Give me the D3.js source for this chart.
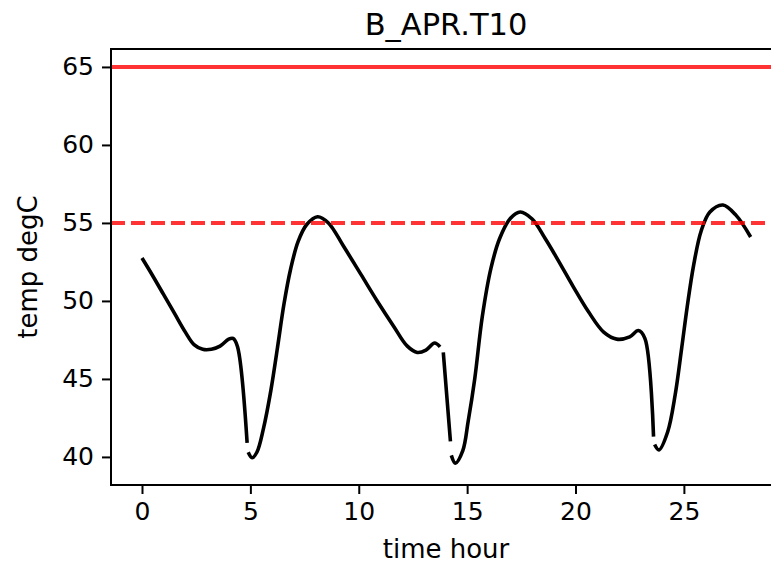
<!DOCTYPE html>
<html>
<head>
<meta charset="utf-8">
<script src="https://cdn.jsdelivr.net/npm/d3@7"></script>
<style>
  html, body { margin: 0; padding: 0; background: #fff; }
  svg { display: block; }
  text { font-family: "DejaVu Sans", sans-serif; fill: #000; }
</style>
</head>
<body>
<script>
// ---- data ----
const titleText = "B_APR.T10";
const xLabel = "time hour";
const yLabel = "temp degC";
const xTicks = [0, 5, 10, 15, 20, 25];
const yTicks = [40, 45, 50, 55, 60, 65];
const limitSolid = 65;
const limitDashed = 55;
// null marks a gap in the recorded series
const timeHour = [0, 0.5, 1.0, 1.5, 2.0, 2.4, 2.8, 3.2, 3.6, 4.0, 4.2, 4.4, 4.85, null,
  4.9, 5.08, 5.3, 5.6, 5.95, 6.25, 6.55, 6.85, 7.2, 7.6, 8.1, 8.6, 9.3, 10.1, 10.85, 11.6, 12.24, 12.7, 13.1, 13.5, 13.75, null,
  13.9, 14.23, null,
  14.27, 14.46, 14.8, 15.05, 15.35, 15.7, 16.1, 16.5, 17.0, 17.45, 18.0, 18.6, 19.2, 19.9, 20.6, 21.3, 21.9, 22.5, 22.9, 23.2, 23.6, null,
  23.65, 23.85, 24.25, 24.6, 24.9, 25.15, 25.45, 25.8, 26.2, 26.8, 27.4, 28.08];
const tempDegC = [52.75, 51.6, 50.4, 49.2, 48.0, 47.2, 46.9, 46.9, 47.1, 47.55, 47.6, 47.1, 40.9, null,
  40.3, 39.95, 40.3, 41.8, 44.3, 47.0, 49.8, 52.0, 53.8, 54.9, 55.4, 55.0, 53.5, 51.7, 50.0, 48.4, 47.1, 46.7, 46.85, 47.3, 47.05, null,
  46.7, 41.0, null,
  40.1, 39.6, 40.4, 42.3, 45.0, 49.0, 52.1, 54.0, 55.3, 55.7, 55.25, 54.0, 52.6, 50.9, 49.3, 48.0, 47.55, 47.7, 48.1, 47.6, 41.3, null,
  40.8, 40.45, 41.6, 44.0, 47.0, 49.6, 52.3, 54.5, 55.7, 56.15, 55.5, 54.1];

// ---- layout ----
const W = 771, H = 565;
const padL = 111, padT = 49, padB = 485, padR = 781;

const svg = d3.select("body").append("svg").attr("width", W).attr("height", H);

const x = d3.scaleLinear().domain([-1.43, 29.48]).range([padL, padR]);
const y = d3.scaleLinear().domain([38.2, 66.15]).range([padB, padT]);

const clipId = "plotclip";
svg.append("clipPath").attr("id", clipId).append("rect")
  .attr("x", padL).attr("y", padT).attr("width", padR - padL).attr("height", padB - padT);

const pts = timeHour.map((t, i) => ({ t: t, v: tempDegC[i] }));
const line = d3.line()
  .defined(d => d.t !== null && d.v !== null)
  .x(d => x(d.t)).y(d => y(d.v))
  .curve(d3.curveCatmullRom.alpha(0.5));

const plot = svg.append("g").attr("clip-path", `url(#${clipId})`);
plot.append("path").datum(pts)
  .attr("d", line)
  .attr("fill", "none").attr("stroke", "#000")
  .attr("stroke-width", 3.6).attr("stroke-linejoin", "round").attr("stroke-linecap", "butt");

plot.append("line")
  .attr("x1", padL).attr("x2", padR)
  .attr("y1", y(limitSolid)).attr("y2", y(limitSolid))
  .attr("stroke", "#ff0000").attr("stroke-opacity", 0.8).attr("stroke-width", 4);
plot.append("line")
  .attr("x1", padL).attr("x2", padR)
  .attr("y1", y(limitDashed)).attr("y2", y(limitDashed))
  .attr("stroke", "#ff0000").attr("stroke-opacity", 0.8).attr("stroke-width", 4)
  .attr("stroke-dasharray", "14,6");

// axes
const xAxis = d3.axisBottom(x).tickValues(xTicks).tickSize(9).tickPadding(8).tickFormat(d3.format("d"));
const yAxis = d3.axisLeft(y).tickValues(yTicks).tickSize(9).tickPadding(8).tickFormat(d3.format("d"));

const gx = svg.append("g").attr("transform", `translate(0,${padB})`).call(xAxis);
const gy = svg.append("g").attr("transform", `translate(${padL},0)`).call(yAxis);
[gx, gy].forEach(g => {
  g.select(".domain").remove();
  g.selectAll(".tick line").attr("stroke", "#000").attr("stroke-width", 2);
  g.selectAll(".tick text").attr("font-family", "DejaVu Sans").attr("font-size", 25).attr("fill", "#1a1a1a");
});

// frame (spines)
svg.append("rect")
  .attr("x", padL).attr("y", padT).attr("width", padR - padL).attr("height", padB - padT)
  .attr("fill", "none").attr("stroke", "#000").attr("stroke-width", 2);

// title and labels
svg.append("text").attr("x", (padL + padR) / 2).attr("y", 35)
  .attr("text-anchor", "middle").attr("font-size", 30.5).attr("fill", "#1a1a1a").text(titleText);
svg.append("text").attr("x", (padL + padR) / 2).attr("y", 558)
  .attr("text-anchor", "middle").attr("font-size", 26).attr("fill", "#1a1a1a").text(xLabel);
svg.append("text").attr("transform", `translate(37,${(padT + padB) / 2}) rotate(-90)`)
  .attr("text-anchor", "middle").attr("font-size", 26).attr("fill", "#1a1a1a").text(yLabel);
</script>
</body>
</html>
